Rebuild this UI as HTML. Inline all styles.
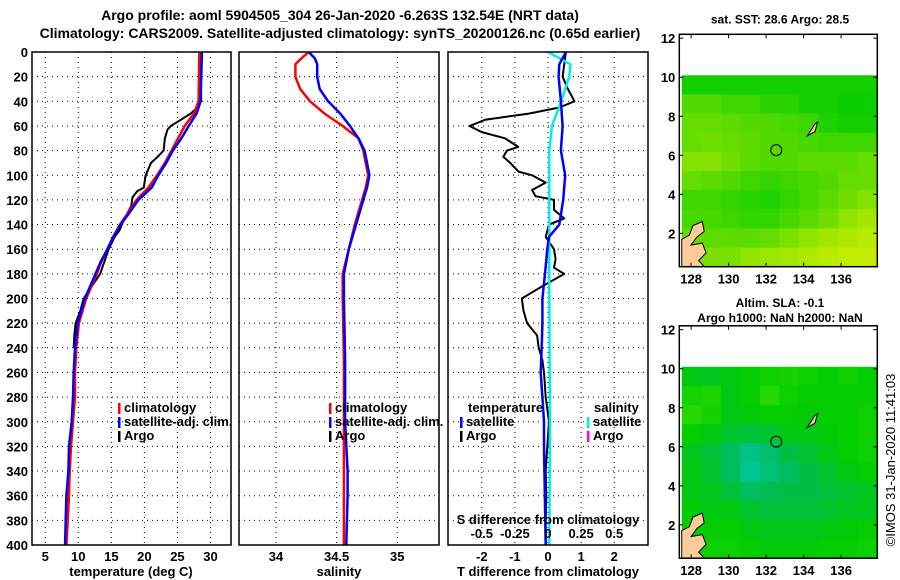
<!DOCTYPE html>
<html><head><meta charset="utf-8"><style>
body{margin:0;background:#fff;}
svg{display:block;font-family:"Liberation Sans",sans-serif;font-weight:bold;}
</style></head><body>
<svg id="chart" width="900" height="580" viewBox="0 0 900 580" xmlns="http://www.w3.org/2000/svg"></svg>
<script>
// ---- data ----
const depthClim=[0,40,50,60,70,80,90,100,110,120,130,140,150,160,170,180,200,220,240,260,280,300,320,340,360,380,400];
const tempClim=[28.3,28.2,27.5,26.1,25.1,24.1,23.1,21.9,20.6,18.8,17.6,16.3,15.3,14.4,13.5,12.8,11.2,10.1,9.7,9.5,9.5,9.2,8.9,8.7,8.6,8.4,8.2];
const tempSat=[28.7,28.5,27.9,26.7,25.6,24.3,23.3,22.1,21.1,19.1,17.8,16.4,15.3,14.4,13.4,12.6,11.0,9.9,9.5,9.3,9.2,9.0,8.6,8.5,8.2,8.1,8.0];
const depthArgo=[0,40,45,50,55,60,63,70,80,85,90,100,110,113,118,125,135,145,150,160,180,200,210,220,230,240];
const tempArgo=[28.5,28.6,28.0,27.0,25.5,24.0,23.5,23.1,22.9,22.0,21.0,20.2,19.9,18.9,18.2,18.0,17.0,16.2,15.5,14.6,13.3,10.8,10.3,9.6,9.4,9.3];
const depthSal=[0,5,10,20,30,40,50,60,70,80,90,100,110,120,140,160,180,200,250,300,340,360,400];
const salClim=[34.27,34.21,34.16,34.16,34.20,34.28,34.40,34.55,34.68,34.72,34.74,34.76,34.74,34.71,34.65,34.60,34.55,34.55,34.56,34.56,34.56,34.56,34.56];
const salSat=[34.27,34.32,34.34,34.34,34.36,34.43,34.53,34.61,34.68,34.73,34.75,34.77,34.75,34.72,34.66,34.60,34.56,34.56,34.57,34.57,34.59,34.59,34.58];
const depthDiffArgo=[0,20,30,40,45,50,55,60,65,70,77,80,85,90,97,100,106,112,117,120,128,135,140,150,160,168,175,180,190,200,210,220,230,240,250,260,280,300,320,340,360,380,400];
const tDiffArgo=[0.54,0.44,0.6,0.8,0.34,-0.58,-1.9,-2.37,-2.0,-1.3,-0.9,-1.24,-1.35,-1.14,-0.89,-0.48,-0.07,-0.48,-0.38,0.18,0.18,0.49,0.03,-0.07,0.18,0.23,0.18,0.49,-0.17,-0.79,-0.74,-0.63,-0.33,-0.28,-0.17,-0.12,-0.07,0.03,-0.02,-0.07,-0.05,-0.07,-0.07];
const depthDiffSat=[0,10,20,40,60,80,100,120,140,150,160,180,200,220,240,260,280,300,320,400];
const tDiffSat=[0.54,0.34,0.32,0.39,0.44,0.39,0.52,0.46,0.34,0.03,-0.02,-0.09,-0.17,-0.17,-0.19,-0.22,-0.17,-0.12,-0.12,-0.07];
const depthDiffSal=[0,10,20,40,60,80,100,200,300,400];
const sDiffSat=[0.0,0.17,0.16,0.1,0.03,0.01,0.01,0.01,0.015,0.01];
const depthTicks=[0,20,40,60,80,100,120,140,160,180,200,220,240,260,280,300,320,340,360,380,400];
const tempTicks=[5,10,15,20,25,30];
const salTicks=[34,34.5,35];
const tDiffTicks=[-2,-1,0,1,2];
const sDiffTicks=[-0.5,-0.25,0,0.25,0.5];
const sDiffTickLabels=["-0.5","-0.25","0","0.25","0.5"];
const latTicks=[2,4,6,8,10,12];
const lonTicks=[128,130,132,134,136];
const sstGrid=[
[0.1,0.1,0.1,0.1,0.1,0.1,0.1,0.1,0.1,0.1],
[0.4,0.4,0.3,0.3,0.2,0.2,0.1,0.1,0.05,0.05],
[0.5,0.5,0.45,0.4,0.4,0.35,0.3,0.15,0.1,0.1],
[0.5,0.55,0.5,0.45,0.4,0.4,0.35,0.3,0.3,0.3],
[0.65,0.65,0.55,0.45,0.4,0.4,0.45,0.45,0.45,0.5],
[0.5,0.45,0.4,0.3,0.25,0.3,0.35,0.4,0.5,0.5],
[0.3,0.3,0.25,0.2,0.15,0.25,0.35,0.45,0.55,0.65],
[0.35,0.35,0.3,0.25,0.25,0.35,0.45,0.55,0.7,0.8],
[0.5,0.45,0.45,0.45,0.5,0.6,0.7,0.8,0.85,0.9],
[0.6,0.6,0.6,0.7,0.75,0.8,0.85,0.9,0.95,0.95]];
const slaGrid=[
[0.6,0.55,0.6,0.7,0.75,0.8,0.75,0.7,0.75,0.7],
[0.8,0.85,0.6,0.7,0.9,0.75,0.7,0.7,0.7,0.7],
[0.9,0.8,0.6,0.65,0.7,0.7,0.65,0.7,0.7,0.75],
[0.7,0.6,0.5,0.45,0.5,0.6,0.6,0.65,0.7,0.75],
[0.55,0.45,0.3,0.15,0.25,0.4,0.5,0.6,0.7,0.75],
[0.6,0.5,0.3,0.1,0.2,0.3,0.4,0.5,0.6,0.7],
[0.6,0.55,0.45,0.3,0.35,0.4,0.4,0.45,0.5,0.55],
[0.65,0.6,0.6,0.5,0.45,0.45,0.45,0.5,0.55,0.55],
[0.7,0.7,0.7,0.6,0.55,0.55,0.55,0.6,0.65,0.7],
[0.75,0.75,0.75,0.7,0.65,0.65,0.65,0.7,0.7,0.75]];
const argoLon=132.54, argoLat=6.263;

// ---- helpers ----
const svg=document.getElementById('chart');
const NS='http://www.w3.org/2000/svg';
function el(tag,attrs,parent){const e=document.createElementNS(NS,tag);for(const k in attrs)e.setAttribute(k,attrs[k]);(parent||svg).appendChild(e);return e;}
function txt(x,y,s,anchor,size,parent){const t=el('text',{x:x,y:y,'text-anchor':anchor||'middle','font-size':size||13,fill:'#000'},parent);t.textContent=s;return t;}
const top0=52,bot0=545;
const yD=d=>top0+d*(bot0-top0)/400;
function panel(x0,x1,xmin,xmax){return v=>x0+(v-xmin)*(x1-x0)/(xmax-xmin);}
function frame(x0,x1,name){
  const g=el('g',{});
  
  
  return g;
}
function grid(g,x0,x1,xs){
  depthTicks.forEach(d=>{if(d>0&&d<400)el('line',{x1:x0,x2:x1,y1:yD(d),y2:yD(d),stroke:'#000','stroke-width':1,'stroke-dasharray':'1,4'},g);});
  xs.forEach(x=>el('line',{x1:x,x2:x,y1:top0,y2:bot0,stroke:'#000','stroke-width':1,'stroke-dasharray':'1,4'},g));
}
function line(g,xs,ds,xf,color,w,name){
  const p=xs.map((v,i)=>xf(v).toFixed(1)+','+yD(ds[i]).toFixed(1)).join(' ');
  const l=el('polyline',{points:p,fill:'none',stroke:color,'stroke-width':w,'stroke-linejoin':'round'},g);
  
  
}
function box(g,x0,x1){el('rect',{x:x0,y:top0,width:x1-x0,height:bot0-top0,fill:'none',stroke:'#000','stroke-width':1.5},g);}

// titles
let t1=txt(340,20,'Argo profile: aoml 5904505_304 26-Jan-2020 -6.263S 132.54E (NRT data)','middle',14);

let t2=txt(340,38,'Climatology: CARS2009. Satellite-adjusted climatology: synTS_20200126.nc (0.65d earlier)','middle',14);


// ---- panel 1 temperature ----
const xT=panel(32,231,3,33.1);
const g1=frame(32,231,'temperature-panel');
grid(g1,32,231,tempTicks.map(xT));
line(g1,tempArgo,depthArgo,xT,'#000',2,'argo-temperature-line');
line(g1,tempClim,depthClim,xT,'#ff0000',2.5,'climatology-temperature-line');
line(g1,tempSat,depthClim,xT,'#0000ff',2.5,'satellite-temperature-line');
box(g1,32,231);
depthTicks.forEach(d=>txt(28,yD(d)+5,String(d),'end',13,g1));
tempTicks.forEach(v=>txt(xT(v),561,String(v),'middle',13,g1));
let at1=txt(131,576,'temperature (deg C)','middle',13,g1);

function legend(g,x,y,items){
  items.forEach((it,i)=>{
    const lg=el('g',{},g);
    
    
    el('rect',{x:x,y:y+i*14-9,width:2.5,height:11,fill:it[1]},lg);
    txt(x+6,y+i*14,it[0],'start',13,lg);
  });
}
legend(g1,118,412,[['climatology','#ff0000'],['satellite-adj. clim.','#0000ff'],['Argo','#000']]);

// ---- panel 2 salinity ----
const xS=panel(239,439,33.695,35.344);
const g2=frame(239,439,'salinity-panel');
grid(g2,239,439,salTicks.map(xS));
line(g2,salClim,depthSal,xS,'#ff0000',2.5,'climatology-salinity-line');
line(g2,salSat,depthSal,xS,'#0000ff',2.5,'satellite-salinity-line');
box(g2,239,439);
salTicks.forEach(v=>txt(xS(v),561,String(v),'middle',13,g2));
let at2=txt(339,576,'salinity','middle',13,g2);

legend(g2,329,412,[['climatology','#ff0000'],['satellite-adj. clim.','#0000ff'],['Argo','#000']]);

// ---- panel 3 differences ----
const xDT=panel(448,648,-3.02,3.02);
const xDS=panel(448,648,-0.755,0.755);
const g3=frame(448,648,'difference-panel');
grid(g3,448,648,tDiffTicks.map(xDT));
line(g3,tDiffArgo,depthDiffArgo,xDT,'#000',2,'argo-temperature-difference-line');
line(g3,sDiffSat,depthDiffSal,xDS,'#00eeee',2.5,'satellite-salinity-difference-line');
line(g3,tDiffSat,depthDiffSat,xDT,'#0000ff',2.5,'satellite-temperature-difference-line');
box(g3,448,648);
tDiffTicks.forEach(v=>txt(xDT(v),561,String(v),'middle',13,g3));
sDiffTicks.forEach((v,i)=>txt(xDS(v),538,sDiffTickLabels[i],'middle',13,g3));
txt(548,524,'S difference from climatology','middle',13,g3);
let at3=txt(548,576,'T difference from climatology','middle',13,g3);

txt(468,412,'temperature','start',13,g3);
txt(594,412,'salinity','start',13,g3);
legend(g3,460,426,[['satellite','#0000ff'],['Argo','#000']]);
legend(g3,587,426,[['satellite','#00eeee'],['Argo','#ff00ff']]);

// ---- maps ----
function lerpC(a,b,t){return 'rgb('+a.map((v,i)=>Math.round(v+(b[i]-v)*t)).join(',')+')';}
function cmap(stops,v){v=Math.max(0,Math.min(1,v));const n=stops.length-1;const i=Math.min(n-1,Math.floor(v*n));return lerpC(stops[i],stops[i+1],v*n-i);}
const sstStops=[[0,204,0],[102,221,0],[204,238,0]];
const slaStops=[[0,204,170],[0,187,85],[0,204,0],[51,221,0]];
function map(yOff,gridVals,stops,name,title1,title2){
  const g=el('g',{});
  
  
  const L=679.3,R=877.3,T=34.3+yOff,B=266.7+yOff;
  const lx=v=>L+(v-127.37)*(R-L)/(137.93-127.37);
  const ly=v=>T+(12.2-v)*(B-T)/(12.2-0.29);
  const nr=gridVals.length,nc=gridVals[0].length;
  const lat0=10.1,lat1=0.29,lon0=127.5,lon1=137.93;
  gridVals.forEach((row,r)=>row.forEach((v,c)=>{
    const x0=lx(lon0+(lon1-lon0)*c/nc),x1=lx(lon0+(lon1-lon0)*(c+1)/nc);
    const y0=ly(lat0-(lat0-lat1)*r/nr),y1=ly(lat0-(lat0-lat1)*(r+1)/nr);
    el('rect',{x:x0,y:y0,width:x1-x0+0.5,height:y1-y0+0.5,fill:cmap(stops,v)},g);
  }));
  // land
  el('path',{d:`M${lx(127.5)} ${ly(1.7)} L${lx(127.9)} ${ly(1.9)} L${lx(128.1)} ${ly(2.4)} L${lx(128.6)} ${ly(2.6)} L${lx(128.7)} ${ly(2.1)} L${lx(128.3)} ${ly(1.8)} L${lx(128.0)} ${ly(1.4)} L${lx(128.6)} ${ly(1.5)} L${lx(128.8)} ${ly(1.0)} L${lx(128.4)} ${ly(0.6)} L${lx(128.7)} ${ly(0.3)} L${lx(127.5)} ${ly(0.3)} Z`,fill:'#ffcc99',stroke:'#000','stroke-width':1},g);
  el('path',{d:`M${lx(134.2)} ${ly(7.0)} L${lx(134.6)} ${ly(7.6)} L${lx(134.75)} ${ly(7.7)} L${lx(134.6)} ${ly(7.2)} Z`,fill:'#ffcc99',stroke:'#000','stroke-width':1},g);
  const c=el('circle',{cx:lx(argoLon),cy:ly(argoLat),r:5.5,fill:'none',stroke:'#000','stroke-width':1},g);
  
  
  el('rect',{x:L,y:T,width:R-L,height:B-T,fill:'none',stroke:'#000','stroke-width':1.5},g);
  latTicks.forEach(v=>{el('line',{x1:L,x2:L+4,y1:ly(v),y2:ly(v),stroke:'#000'},g);el('line',{x1:R,x2:R-4,y1:ly(v),y2:ly(v),stroke:'#000'},g);txt(L-4,ly(v)+5,String(v),'end',13,g);});
  lonTicks.forEach(v=>{el('line',{x1:lx(v),x2:lx(v),y1:B,y2:B-4,stroke:'#000'},g);el('line',{x1:lx(v),x2:lx(v),y1:T,y2:T+4,stroke:'#000'},g);txt(lx(v),B+17,String(v),'middle',13,g);});
  if(title2){txt(780,T-19,title1,'middle',12,g);txt(780,T-4,title2,'middle',12,g);}
  else txt(780,T-11,title1,'middle',12,g);
}
map(0,sstGrid,sstStops,'sst-map','sat. SST: 28.6 Argo: 28.5');
map(291.5,slaGrid,slaStops,'sla-map','Altim. SLA: -0.1','Argo h1000: NaN h2000: NaN');
const cr=txt(0,0,'©IMOS 31-Jan-2020 11:41:03','middle',13);
cr.setAttribute('transform','translate(895,460) rotate(-90)');
cr.setAttribute('font-weight','normal');


</script>
</body></html>
